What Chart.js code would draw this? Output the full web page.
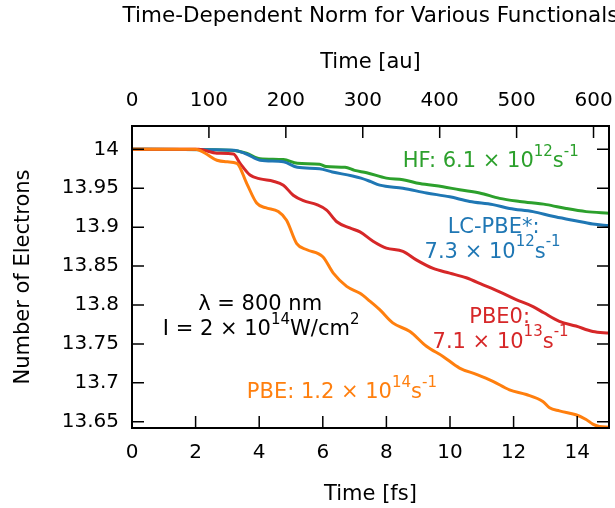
<!DOCTYPE html>
<html>
<head>
<meta charset="utf-8">
<script src="https://cdn.jsdelivr.net/npm/chart.js@4.4.0/dist/chart.umd.min.js"></script>
<style>
  html, body { margin: 0; padding: 0; background: #fff; }
</style>
</head>
<body>
<canvas id="normChart" width="615" height="508"></canvas>
<script>
// Time-dependent norm for various functionals

const FS_TO_AU = 41.341;
const xTicksFs = [0, 2, 4, 6, 8, 10, 12, 14];
const xTicksAu = [0, 100, 200, 300, 400, 500, 600];
const yTicks = [13.65, 13.7, 13.75, 13.8, 13.85, 13.9, 13.95, 14];

// PBE (orange)
const timePBE = [0, 2.0, 2.3, 2.67, 3.0, 3.3, 3.61, 3.92, 4.2, 4.6, 4.86, 5.18, 5.5, 6.0, 6.33, 6.75, 7.17, 7.48, 7.79, 8.2, 8.74, 9.26, 9.78, 10.3, 10.83, 11.35, 11.87, 12.4, 12.92, 13.13, 13.44, 13.96, 14.28, 14.49, 14.7, 15];
const normPBE = [14.0, 14.0, 13.995, 13.986, 13.984, 13.982, 13.956, 13.931, 13.925, 13.920, 13.909, 13.879, 13.871, 13.862, 13.841, 13.824, 13.815, 13.805, 13.794, 13.777, 13.766, 13.747, 13.734, 13.719, 13.711, 13.702, 13.691, 13.685, 13.676, 13.668, 13.664, 13.659, 13.653, 13.647, 13.644, 13.643];

// PBE0 (red)
const timePBE0 = [0, 2.1, 2.67, 3.19, 3.4, 3.71, 4.03, 4.44, 4.76, 5.07, 5.39, 5.81, 6.12, 6.44, 6.85, 7.17, 7.58, 8.0, 8.52, 8.94, 9.47, 9.99, 10.51, 11.04, 11.56, 12.08, 12.61, 12.95, 13.44, 13.96, 14.49, 15];
const normPBE0 = [14.0, 14.0, 13.995, 13.994, 13.982, 13.967, 13.962, 13.959, 13.954, 13.941, 13.934, 13.929, 13.922, 13.907, 13.899, 13.894, 13.882, 13.873, 13.869, 13.858, 13.847, 13.841, 13.835, 13.826, 13.817, 13.807, 13.798, 13.790, 13.779, 13.773, 13.766, 13.764];

// LC-PBE* (blue)
const timeLC = [0, 3.2, 3.6, 4.03, 4.76, 5.2, 5.9, 6.3, 6.9, 7.2, 7.48, 7.79, 8.52, 9.26, 9.99, 10.62, 11.35, 11.87, 12.61, 13.23, 13.86, 14.49, 15];
const normLC = [14.0, 13.999, 13.994, 13.986, 13.984, 13.977, 13.975, 13.971, 13.966, 13.963, 13.959, 13.954, 13.950, 13.944, 13.939, 13.933, 13.929, 13.924, 13.920, 13.914, 13.909, 13.904, 13.902];

// HF (green)
const timeHF = [0, 3.1, 3.6, 4.03, 4.76, 5.2, 5.9, 6.1, 6.7, 7.0, 7.38, 8.0, 8.52, 9.05, 9.78, 10.3, 10.93, 11.56, 12.19, 13.03, 13.65, 14.28, 15];
const normHF = [14.0, 13.999, 13.995, 13.988, 13.987, 13.982, 13.981, 13.978, 13.977, 13.973, 13.970, 13.963, 13.961, 13.956, 13.952, 13.948, 13.944, 13.937, 13.933, 13.929, 13.924, 13.920, 13.918];

const ORANGE = '#ff7f0e', RED = '#d62728', BLUE = '#1f77b4', GREEN = '#2ca02c';
const FONT = "'DejaVu Sans', sans-serif";

// Text notes: anchor in data units (fs, electrons), parts [text, isSuperscript]
const notes = [
    { t: 11.28, v: 13.984, color: GREEN, parts: [['HF: 6.1 × 10'], ['12', 1], ['s'], ['-1', 1]] },
    { t: 11.37, v: 13.900, color: BLUE, parts: [['LC-PBE*:']] },
    { t: 11.34, v: 13.868, color: BLUE, parts: [['7.3 × 10'], ['12', 1], ['s'], ['-1', 1]] },
    { t: 11.56, v: 13.784, color: RED, parts: [['PBE0:']] },
    { t: 11.59, v: 13.752, color: RED, parts: [['7.1 × 10'], ['13', 1], ['s'], ['-1', 1]] },
    { t: 6.6, v: 13.687, color: ORANGE, parts: [['PBE: 1.2 × 10'], ['14', 1], ['s'], ['-1', 1]] },
    { t: 4.03, v: 13.800, color: '#000', parts: [['λ = 800 nm']] },
    { t: 4.06, v: 13.768, color: '#000', parts: [['I = 2 × 10'], ['14', 1], ['W/cm'], ['2', 1]] }
];

function toPoints(xs, ys) {
    return xs.map((x, i) => ({ x: x, y: ys[i] }));
}

function lineSet(label, xs, ys, color) {
    return {
        label: label,
        data: toPoints(xs, ys),
        borderColor: color,
        backgroundColor: color,
        borderWidth: 3,
        pointRadius: 0,
        cubicInterpolationMode: 'monotone',
        xAxisID: 'x',
        yAxisID: 'y'
    };
}

// Frame, inward ticks, title and notes
const decorPlugin = {
    id: 'decor',
    afterDraw(chart) {
        const ctx = chart.ctx;
        const a = chart.chartArea;
        const sx = chart.scales.x, sTop = chart.scales.xTop, sy = chart.scales.y;
        const tick = 12;
        ctx.save();
        ctx.strokeStyle = '#000';
        ctx.lineWidth = 1.5;
        ctx.beginPath();
        xTicksFs.forEach(v => {
            const px = sx.getPixelForValue(v);
            ctx.moveTo(px, a.bottom); ctx.lineTo(px, a.bottom - tick);
        });
        xTicksAu.forEach(v => {
            const px = sTop.getPixelForValue(v);
            ctx.moveTo(px, a.top); ctx.lineTo(px, a.top + tick);
        });
        yTicks.forEach(v => {
            const py = sy.getPixelForValue(v);
            ctx.moveTo(a.left, py); ctx.lineTo(a.left + tick, py);
            ctx.moveTo(a.right, py); ctx.lineTo(a.right - tick, py);
        });
        ctx.stroke();
        ctx.lineWidth = 2;
        ctx.strokeRect(a.left, a.top, a.right - a.left, a.bottom - a.top);

        // chart title centred over the plot
        ctx.fillStyle = '#000';
        ctx.font = '21.5px ' + FONT;
        ctx.textAlign = 'center';
        ctx.textBaseline = 'middle';
        ctx.fillText('Time-Dependent Norm for Various Functionals', (a.left + a.right) / 2, 16);

        // notes with superscripts
        ctx.textAlign = 'left';
        notes.forEach(n => {
            const cx = sx.getPixelForValue(n.t);
            const cy = sy.getPixelForValue(n.v);
            let total = 0;
            n.parts.forEach(p => {
                ctx.font = (p[1] ? '15px ' : '21px ') + FONT;
                total += ctx.measureText(p[0]).width;
            });
            let x = cx - total / 2;
            ctx.fillStyle = n.color;
            n.parts.forEach(p => {
                ctx.font = (p[1] ? '15px ' : '21px ') + FONT;
                ctx.fillText(p[0], x, p[1] ? cy - 10 : cy);
                x += ctx.measureText(p[0]).width;
            });
        });
        ctx.restore();
    }
};

const tickFont = { family: FONT, size: 20 };
const titleFont = { family: FONT, size: 21 };

function fixHorizontal(height) {
    return s => {
        s.height = height;
        s.paddingLeft = 0;
        s.paddingRight = 0;
    };
}

new Chart(document.getElementById('normChart').getContext('2d'), {
    type: 'line',
    data: {
        datasets: [
            lineSet('PBE', timePBE, normPBE, ORANGE),
            lineSet('PBE0', timePBE0, normPBE0, RED),
            lineSet('LC-PBE*', timeLC, normLC, BLUE),
            lineSet('HF', timeHF, normHF, GREEN)
        ]
    },
    options: {
        responsive: false,
        animation: false,
        devicePixelRatio: 1,
        layout: { padding: { left: 0, right: 6, top: 0, bottom: 0 } },
        plugins: {
            legend: { display: false },
            tooltip: { enabled: false },
            title: { display: false }
        },
        scales: {
            x: {
                type: 'linear',
                position: 'bottom',
                min: 0,
                max: 15,
                afterBuildTicks: s => { s.ticks = xTicksFs.map(v => ({ value: v })); },
                afterFit: fixHorizontal(80),
                grid: { display: false, drawTicks: false },
                border: { display: false },
                ticks: { font: tickFont, color: '#000', padding: 13, maxRotation: 0, autoSkip: false },
                title: { display: true, text: 'Time [fs]', font: titleFont, color: '#000', padding: { top: 6, bottom: 1 } }
            },
            xTop: {
                type: 'linear',
                position: 'top',
                min: 0,
                max: 15 * FS_TO_AU,
                afterBuildTicks: s => { s.ticks = xTicksAu.map(v => ({ value: v })); },
                afterFit: fixHorizontal(126),
                grid: { display: false, drawTicks: false },
                border: { display: false },
                ticks: { font: tickFont, color: '#000', padding: 13, maxRotation: 0, autoSkip: false },
                title: { display: true, text: 'Time [au]', font: titleFont, color: '#000', padding: { top: 50, bottom: 0 } }
            },
            y: {
                type: 'linear',
                position: 'left',
                min: 13.642,
                max: 14.03,
                afterBuildTicks: s => { s.ticks = yTicks.map(v => ({ value: v })); },
                afterFit: s => { s.width = 132; },
                grid: { display: false, drawTicks: false },
                border: { display: false },
                ticks: {
                    font: tickFont, color: '#000', padding: 13,
                    callback: v => String(+v.toFixed(2))
                },
                title: { display: true, text: 'Number of Electrons', font: titleFont, color: '#000', padding: { top: 11, bottom: 0 } }
            }
        }
    },
    plugins: [decorPlugin]
});
</script>
</body>
</html>
